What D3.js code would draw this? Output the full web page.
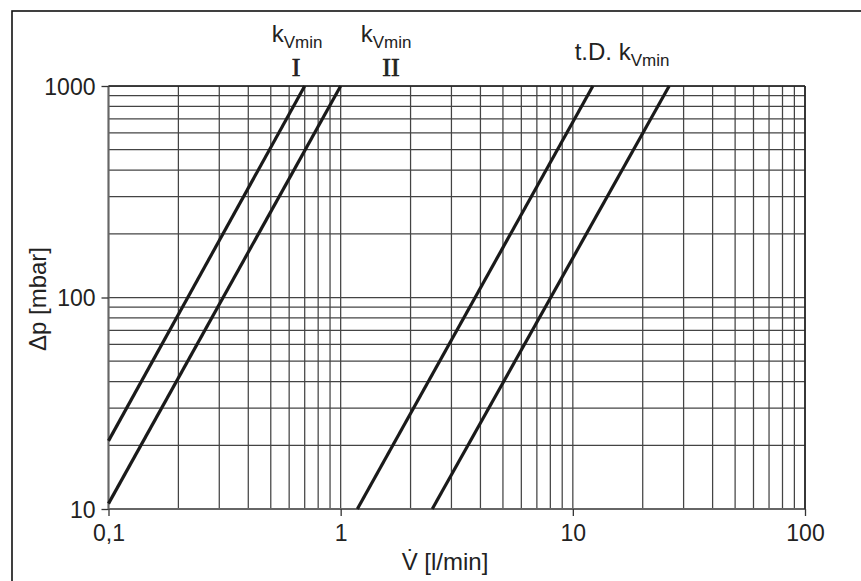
<!DOCTYPE html>
<html>
<head>
<meta charset="utf-8">
<script src="https://cdn.jsdelivr.net/npm/d3@7"></script>
<style>
  html, body { margin: 0; padding: 0; background: #fff; }
  svg text { font-family: "Liberation Sans", Arial, sans-serif; fill: #222; }
</style>
</head>
<body>
<div id="chart"></div>
<script>
// Chart data
const xTicks = [0.1, 1, 10, 100];
const xTickLabels = ["0,1", "1", "10", "100"];
const yTicks = [10, 100, 1000];
const yTickLabels = ["10", "100", "1000"];

// Each curve: flow V [l/min] and pressure drop [mbar] at its two ends
const curveNames = ["kVmin I", "kVmin II", "t.D. kVmin I", "t.D. kVmin II"];
const curveV = [[0.1, 0.7], [0.1, 1.0], [1.18, 12.2], [2.48, 26.0]];
const curveDp = [[21, 1000], [10.6, 1000], [10, 1000], [10, 1000]];

const WIDTH = 861;
const HEIGHT = 581;
const FONT = '"Liberation Sans", Arial, sans-serif';
const SERIF = '"Liberation Serif", "Times New Roman", serif';

const svg = d3.select("#chart")
  .append("svg")
  .attr("width", WIDTH)
  .attr("height", HEIGHT);

// Outer frame (right and bottom edges run off the picture)
svg.append("rect")
  .attr("x", 12).attr("y", 11)
  .attr("width", 900).attr("height", 620)
  .attr("fill", "none")
  .attr("stroke", "#111")
  .attr("stroke-width", 1.6);

const x = d3.scaleLog().domain([0.1, 100]).range([108.5, 805]);
const y = d3.scaleLog().domain([10, 1000]).range([509, 86]);

// Grid lines for every 1..9 step in each decade
const xGrid = [];
for (let d = 0.1; d < 100; d *= 10) {
  for (let k = 1; k <= 9; k++) xGrid.push(+(d * k).toPrecision(3));
}
xGrid.push(100);
const yGrid = [];
for (let d = 10; d < 1000; d *= 10) {
  for (let k = 1; k <= 9; k++) yGrid.push(+(d * k).toPrecision(3));
}
yGrid.push(1000);

const grid = svg.append("g").attr("class", "grid");

grid.selectAll(".vline")
  .data(xGrid)
  .enter()
  .append("line")
  .attr("class", "vline")
  .attr("x1", (d) => x(d)).attr("x2", (d) => x(d))
  .attr("y1", y(10)).attr("y2", y(1000))
  .attr("stroke", "#444")
  .attr("stroke-width", 1.25);

grid.selectAll(".hline")
  .data(yGrid)
  .enter()
  .append("line")
  .attr("class", "hline")
  .attr("x1", x(0.1)).attr("x2", x(100))
  .attr("y1", (d) => y(d)).attr("y2", (d) => y(d))
  .attr("stroke", "#444")
  .attr("stroke-width", 1.25);

// Plot border: left/bottom a bit heavier grey, top/right dark
grid.append("line")
  .attr("x1", x(0.1)).attr("x2", x(0.1))
  .attr("y1", y(10)).attr("y2", y(1000))
  .attr("stroke", "#666").attr("stroke-width", 2);
grid.append("line")
  .attr("x1", x(0.1)).attr("x2", x(100))
  .attr("y1", y(10)).attr("y2", y(10))
  .attr("stroke", "#666").attr("stroke-width", 2);
grid.append("line")
  .attr("x1", x(0.1)).attr("x2", x(100))
  .attr("y1", y(1000)).attr("y2", y(1000))
  .attr("stroke", "#222").attr("stroke-width", 1.6);
grid.append("line")
  .attr("x1", x(100)).attr("x2", x(100))
  .attr("y1", y(10)).attr("y2", y(1000))
  .attr("stroke", "#222").attr("stroke-width", 1.6);

// Axes (ticks and labels only)
const xAxis = d3.axisBottom(x)
  .tickValues(xTicks)
  .tickSize(7)
  .tickPadding(9)
  .tickFormat((d, i) => xTickLabels[i]);

const yAxis = d3.axisLeft(y)
  .tickValues(yTicks)
  .tickSize(7)
  .tickPadding(6)
  .tickFormat((d, i) => yTickLabels[i]);

const gx = svg.append("g")
  .attr("transform", `translate(0,${y(10)})`)
  .call(xAxis);
const gy = svg.append("g")
  .attr("transform", `translate(${x(0.1)},0)`)
  .call(yAxis);

[gx, gy].forEach((g) => {
  g.select(".domain").remove();
  g.selectAll(".tick line").attr("stroke", "#333").attr("stroke-width", 1.3);
  g.selectAll(".tick text")
    .attr("fill", "#222")
    .style("font-size", "23px")
    .style("font-family", FONT);
});
gy.selectAll(".tick text").attr("dy", "0.36em");

// Axis titles
svg.append("text")
  .attr("x", 445)
  .attr("y", 570)
  .attr("text-anchor", "middle")
  .style("font-size", "24px")
  .text("V\u0307 [l/min]");

svg.append("text")
  .attr("transform", "translate(46,299) rotate(-90)")
  .attr("text-anchor", "middle")
  .style("font-size", "24px")
  .text("\u0394p [mbar]");

// Curves
const line = d3.line()
  .x((d) => x(d[0]))
  .y((d) => y(d[1]));

const curves = curveNames.map((name, i) => ({
  name,
  points: curveV[i].map((v, j) => [v, curveDp[i][j]]),
}));

svg.selectAll(".curve")
  .data(curves)
  .enter()
  .append("path")
  .attr("class", "curve")
  .attr("d", (d) => line(d.points))
  .attr("fill", "none")
  .attr("stroke", "#1a1a1a")
  .attr("stroke-width", 3.2);

// Curve labels above the plot
function kLabel(cx, baseline, prefix) {
  const t = svg.append("text")
    .attr("x", cx)
    .attr("y", baseline)
    .attr("text-anchor", "middle")
    .style("font-size", "24px");
  t.append("tspan").text(prefix + "k");
  t.append("tspan")
    .attr("dy", 6)
    .style("font-size", "17px")
    .text("Vmin");
  return t;
}

kLabel(297, 42, "");
kLabel(386, 42, "");
kLabel(622, 60, "t.D. ");

[["I", 296], ["II", 391]].forEach(([label, cx]) => {
  svg.append("text")
    .attr("x", cx)
    .attr("y", 76)
    .attr("text-anchor", "middle")
    .style("font-family", SERIF)
    .style("font-size", "26px")
    .attr("stroke", "#222")
    .attr("stroke-width", 0.7)
    .text(label);
});
</script>
</body>
</html>
